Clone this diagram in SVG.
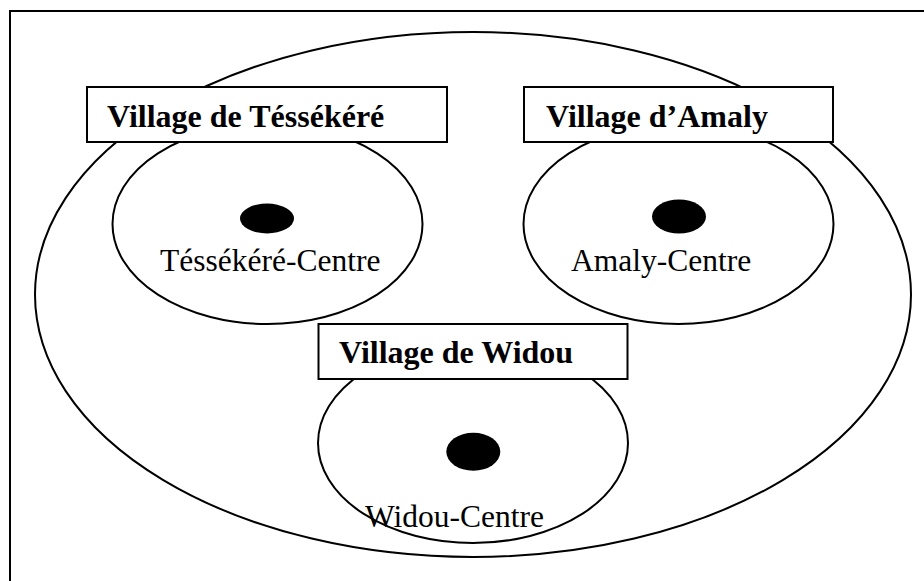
<svg xmlns="http://www.w3.org/2000/svg" width="924" height="581" viewBox="0 0 924 581">
<style>
.line{fill:none;stroke:#000;stroke-width:2}
.zone{fill:#fff;stroke:#000;stroke-width:2}
.box{fill:#fff;stroke:#000;stroke-width:2}
.dot{fill:#000}
.title{font-family:"Liberation Serif","Times New Roman",serif;font-weight:bold;font-size:32px;fill:#000}
.lbl{font-family:"Liberation Serif","Times New Roman",serif;font-size:31.5px;fill:#000}
</style>
<rect width="924" height="581" fill="#fff"/>
<path class="line" d="M10,581 V11 H924"/>
<g id="commune">
<ellipse class="zone" cx="473" cy="294.5" rx="438" ry="262.5"/>
</g>
<g id="tessekere">
<ellipse class="zone" cx="267.5" cy="224" rx="155" ry="100"/>
<ellipse class="dot" cx="267" cy="218.5" rx="27" ry="15"/>
<text class="lbl" x="160" y="271">Téssékéré-Centre</text>
<rect class="box" x="87" y="87" width="360" height="55"/>
<text class="title" x="107" y="127">Village de Téssékéré</text>
</g>
<g id="amaly">
<ellipse class="zone" cx="678.5" cy="224" rx="155" ry="100"/>
<ellipse class="dot" cx="679" cy="216.5" rx="27" ry="17"/>
<text class="lbl" x="571" y="271">Amaly-Centre</text>
<rect class="box" x="524" y="87" width="309" height="55"/>
<text class="title" x="546" y="127">Village d’Amaly</text>
</g>
<g id="widou">
<ellipse class="zone" cx="473" cy="443" rx="155" ry="100"/>
<ellipse class="dot" cx="473.3" cy="451.7" rx="27" ry="19"/>
<text class="lbl" x="365" y="527">Widou-Centre</text>
<rect class="box" x="318.5" y="324" width="309" height="55"/>
<text class="title" x="339" y="363">Village de Widou</text>
</g>
</svg>
